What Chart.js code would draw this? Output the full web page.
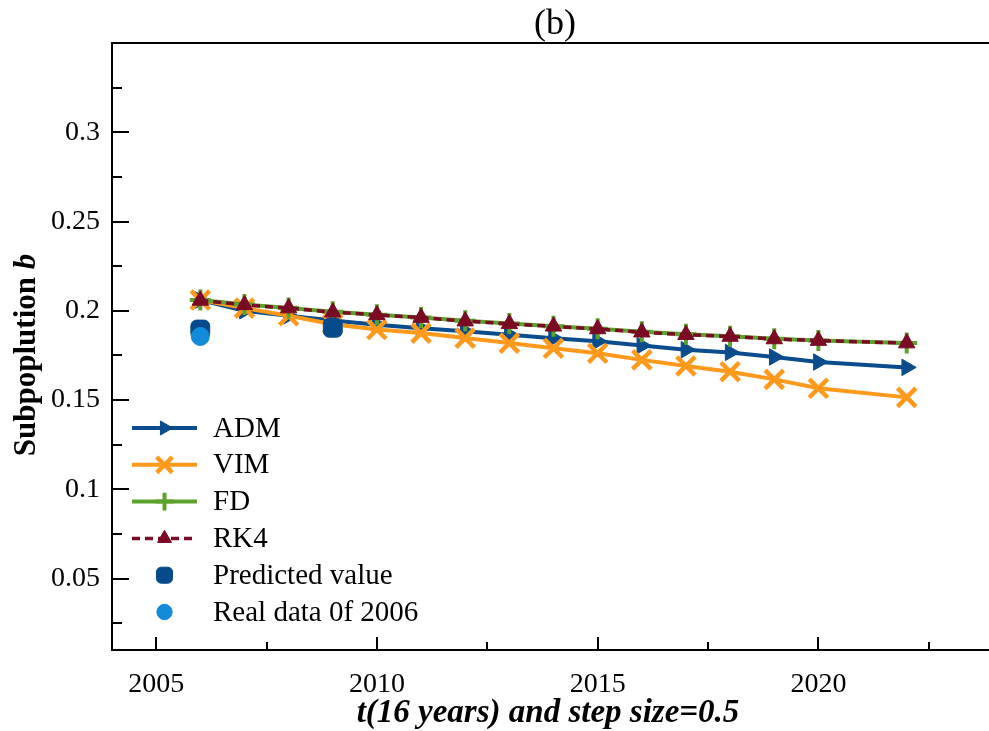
<!DOCTYPE html>
<html>
<head>
<meta charset="utf-8">
<title>Subpopulation b</title>
<script src="https://cdn.jsdelivr.net/npm/chart.js@4/dist/chart.umd.min.js"></script>
<style>
  html, body { margin: 0; padding: 0; background: #fff; overflow: hidden; }
  #chart { display: block; }
</style>
</head>
<body>
<canvas id="chart" width="1000" height="731"></canvas>
<script>
// time steps (years)
const years = [2006, 2007, 2008, 2009, 2010, 2011, 2012, 2013, 2014, 2015, 2016, 2017, 2018, 2019, 2020, 2022];

// subpopulation b by method
const adm = [0.2060, 0.2000, 0.1972, 0.1946, 0.1922, 0.1902, 0.1885, 0.1866, 0.1846, 0.1829, 0.1805, 0.1782, 0.1767, 0.1741, 0.1713, 0.1683];
const vim = [0.2060, 0.2015, 0.1972, 0.1925, 0.1895, 0.1875, 0.1847, 0.1819, 0.1790, 0.1762, 0.1725, 0.1691, 0.1659, 0.1616, 0.1566, 0.1515];
const fd  = [0.2060, 0.2035, 0.2016, 0.1994, 0.1978, 0.1963, 0.1944, 0.1929, 0.1914, 0.1899, 0.1882, 0.1868, 0.1857, 0.1843, 0.1834, 0.1820];
const rk4 = [0.2058, 0.2033, 0.2015, 0.1992, 0.1977, 0.1962, 0.1942, 0.1927, 0.1913, 0.1898, 0.1880, 0.1866, 0.1856, 0.1842, 0.1833, 0.1819];

// single markers
const predictedYears = [2006, 2009];
const predictedVals = [0.1895, 0.1905];
const realYears = [2006];
const realVals = [0.1856];

// axis ticks
const xMajor = [2005, 2010, 2015, 2020];
const xMinor = [2007.5, 2012.5, 2017.5, 2022.5];
const yMajor = [0.05, 0.1, 0.15, 0.2, 0.25, 0.3];
const yMinor = [0.025, 0.075, 0.125, 0.175, 0.225, 0.275, 0.325];

const serif = '"Liberation Serif", "Times New Roman", serif';

const pts = (xs, ys) => xs.map((x, i) => ({ x: x, y: ys[i] }));

const datasets = [
  { label: 'ADM', data: pts(years, adm), borderColor: '#0a4c8c', backgroundColor: '#0a4c8c',
    borderWidth: 4, pointStyle: 'triangle', pointRotation: 90, pointRadius: 9.5, pointBorderWidth: 1, order: 6 },
  { label: 'VIM', data: pts(years, vim), borderColor: '#ff991c', backgroundColor: '#ff991c',
    borderWidth: 4, pointStyle: 'crossRot', pointRadius: 13, pointBorderWidth: 4.5, order: 5 },
  { label: 'FD', data: pts(years, fd), borderColor: '#5ca22c', backgroundColor: '#5ca22c',
    borderWidth: 4, pointStyle: 'cross', pointRadius: 10.5, pointBorderWidth: 4, order: 4 },
  { label: 'RK4', data: pts(years, rk4), borderColor: '#7b0a24', backgroundColor: '#7b0a24',
    borderWidth: 3.5, borderDash: [8, 5], pointStyle: 'triangle', pointRadius: 9.5, pointBorderWidth: 1, order: 3 },
  { label: 'Predicted value', data: pts(predictedYears, predictedVals), showLine: false,
    borderColor: '#054a8b', backgroundColor: '#054a8b', pointStyle: 'rectRounded', pointRadius: 11, pointBorderWidth: 1, order: 2 },
  { label: 'Real data 0f 2006', data: pts(realYears, realVals), showLine: false,
    borderColor: '#128bd8', backgroundColor: '#128bd8', pointStyle: 'circle', pointRadius: 9, pointBorderWidth: 1, order: 1 }
];
datasets.forEach(d => { d.fill = false; d.tension = 0; d.pointBackgroundColor = d.backgroundColor; d.pointBorderColor = d.borderColor; });

// box on left/top/bottom with inward ticks, plus titles and legend
const decorations = {
  id: 'decorations',
  afterDraw(chart) {
    const ctx = chart.ctx;
    const a = chart.chartArea;
    const xs = chart.scales.x, ys = chart.scales.y;
    ctx.save();
    ctx.strokeStyle = '#000';
    ctx.lineWidth = 2;
    ctx.beginPath();
    ctx.moveTo(a.right + 10, a.top); ctx.lineTo(a.left, a.top);
    ctx.lineTo(a.left, a.bottom); ctx.lineTo(a.right + 10, a.bottom);
    ctx.stroke();

    ctx.lineWidth = 2;
    ctx.beginPath();
    yMajor.forEach(v => { const y = Math.round(ys.getPixelForValue(v)); ctx.moveTo(a.left, y); ctx.lineTo(a.left + 17, y); });
    yMinor.forEach(v => { const y = Math.round(ys.getPixelForValue(v)); ctx.moveTo(a.left, y); ctx.lineTo(a.left + 10, y); });
    xMajor.forEach(v => { const x = Math.round(xs.getPixelForValue(v)); ctx.moveTo(x, a.bottom); ctx.lineTo(x, a.bottom - 13); });
    xMinor.forEach(v => { const x = Math.round(xs.getPixelForValue(v)); ctx.moveTo(x, a.bottom); ctx.lineTo(x, a.bottom - 8); });
    ctx.stroke();

    // panel label
    ctx.fillStyle = '#000';
    ctx.textAlign = 'center';
    ctx.textBaseline = 'middle';
    ctx.font = '36px ' + serif;
    ctx.fillText('(b)', 555, 25);

    // x axis title
    ctx.font = 'italic bold 33px ' + serif;
    ctx.fillText('t(16 years) and step size=0.5', 548, 713);

    // y axis title, bold with italic b
    ctx.save();
    ctx.translate(27, 355);
    ctx.rotate(-Math.PI / 2);
    ctx.font = 'bold 31px ' + serif;
    const main = 'Subpoplution ';
    const w1 = ctx.measureText(main).width;
    ctx.font = 'italic bold 31px ' + serif;
    const w2 = ctx.measureText('b').width;
    const x0 = -(w1 + w2) / 2;
    ctx.textAlign = 'left';
    ctx.font = 'bold 31px ' + serif;
    ctx.fillText(main, x0, 0);
    ctx.font = 'italic bold 31px ' + serif;
    ctx.fillText('b', x0 + w1, 0);
    ctx.restore();

    // legend inside the plot, lower left
    const lx = a.left + 20, lw = 65, step = 36.8;
    let ly = a.bottom - 222;
    chart.data.datasets.forEach(d => {
      const cx = lx + lw / 2;
      if (d.showLine !== false) {
        ctx.save();
        ctx.strokeStyle = d.borderColor;
        ctx.lineWidth = d.borderWidth;
        ctx.setLineDash(d.borderDash || []);
        ctx.beginPath();
        ctx.moveTo(lx, ly); ctx.lineTo(lx + lw, ly);
        ctx.stroke();
        ctx.restore();
      }
      ctx.save();
      ctx.fillStyle = d.pointBackgroundColor;
      ctx.strokeStyle = d.pointBorderColor;
      ctx.lineWidth = d.pointBorderWidth;
      Chart.helpers.drawPoint(ctx, {
        pointStyle: d.pointStyle, rotation: d.pointRotation || 0,
        radius: d.pointRadius * 0.85, borderWidth: d.pointBorderWidth
      }, cx, ly);
      ctx.restore();
      ctx.fillStyle = '#000';
      ctx.textAlign = 'left';
      ctx.textBaseline = 'middle';
      ctx.font = '29px ' + serif;
      ctx.fillText(d.label, lx + 81, ly + 1);
      ly += step;
    });
    ctx.restore();
  }
};

new Chart(document.getElementById('chart'), {
  type: 'line',
  data: { datasets: datasets },
  plugins: [decorations],
  options: {
    responsive: false,
    animation: false,
    layout: { autoPadding: false, padding: { left: 0, top: 43, right: 5, bottom: 0 } },
    plugins: { legend: { display: false }, title: { display: false }, tooltip: { enabled: false } },
    scales: {
      x: {
        type: 'linear', min: 2004, max: 2024,
        afterBuildTicks: s => { s.ticks = xMajor.map(v => ({ value: v })); },
        afterFit: s => { s.height = 81; },
        grid: { display: false, drawTicks: false },
        border: { display: false },
        ticks: { color: '#000', padding: 18, maxRotation: 0, font: { family: serif, size: 28 },
          callback: v => String(v) }
      },
      y: {
        type: 'linear', min: 0.01, max: 0.35,
        afterBuildTicks: s => { s.ticks = yMajor.map(v => ({ value: v })); },
        afterFit: s => { s.width = 112; },
        grid: { display: false, drawTicks: false },
        border: { display: false },
        ticks: { color: '#000', padding: 12, font: { family: serif, size: 28 },
          callback: v => String(parseFloat(v.toFixed(3))) }
      }
    }
  }
});
</script>
</body>
</html>
